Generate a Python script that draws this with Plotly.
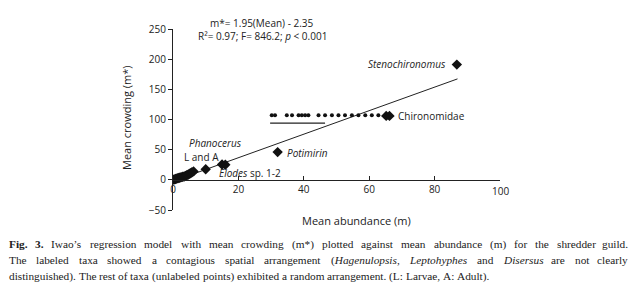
import plotly.graph_objects as go

# Taxa points (mean abundance m, mean crowding m*)
taxa_x = [0.2, 0.5, 0.8, 1.0, 1.3, 1.6, 2.0, 2.3, 2.7, 3.0, 3.4, 3.8, 4.2, 4.6, 5.0, 5.4, 5.8, 6.3,
          10.0, 15.0, 16.0, 32.0, 65.2, 66.2, 86.8]
taxa_y = [0.3, 0.8, 1.5, 2.0, 2.5, 3.0, 3.5, 4.0, 4.5, 5.0, 5.5, 6.5, 7.5, 8.5, 10.0, 11.0, 12.5, 14.0,
          17.5, 25.5, 25.0, 46.0, 106.0, 106.0, 191.0]

# Dotted row of markers (as printed in the figure)
dots_x = [30.2, 31.2, 34.8, 36.4, 38.4, 39.4, 40.4, 41.4, 44.5, 46.5, 48.6, 50.6, 52.6, 54.7,
          56.7, 58.8, 60.8, 62.8]
dots_y = [107] * len(dots_x)

# Short solid segment under the dotted row
seg_x = [29.7, 46.5]
seg_y = [94, 94]

# Regression line m* = 1.95(Mean) - 2.35
fit_x = [0, 87]
fit_y = [-2.35, 167.3]

x_ticks = [0, 20, 40, 60, 80, 100]
x_labels = ["0", "20", "40", "60", "80", "100"]
y_ticks = [-50, 0, 50, 100, 150, 200, 250]

# Caption lines: list of (word, style) ; style: "" regular, "b" bold, "i" italic
cap_lines = [
    [("Fig.", "b"), ("3.", "b"), ("Iwao’s", ""), ("regression", ""), ("model", ""), ("with", ""),
     ("mean", ""), ("crowding", ""), ("(m*)", ""), ("plotted", ""), ("against", ""), ("mean", ""),
     ("abundance", ""), ("(m)", ""), ("for", ""), ("the", ""), ("shredder", ""), ("guild.", "")],
    [("The", ""), ("labeled", ""), ("taxa", ""), ("showed", ""), ("a", ""), ("contagious", ""),
     ("spatial", ""), ("arrangement", ""), ("(", ""), ("Hagenulopsis", "i"), (",", ""), ("Leptohyphes", "i"),
     ("and", ""), ("Disersus", "i"), ("are", ""), ("not", ""), ("clearly", "")],
    [("distinguished).", ""), ("The", ""), ("rest", ""), ("of", ""), ("taxa", ""), ("(unlabeled", ""),
     ("points)", ""), ("exhibited", ""), ("a", ""), ("random", ""), ("arrangement.", ""), ("(L:", ""),
     ("Larvae,", ""), ("A:", ""), ("Adult).", "")],
]

FONT = "Open Sans"
SERIF = "Liberation Serif"
W, H = 637, 299
L, R, T, B = 173, 137, 29, 89
pw, ph = W - L - R, H - T - B

fig = go.Figure()
fig.add_trace(go.Scatter(x=fit_x, y=fit_y, mode="lines",
                         line=dict(color="#222", width=1), hoverinfo="skip"))
fig.add_trace(go.Scatter(x=seg_x, y=seg_y, mode="lines",
                         line=dict(color="#222", width=1.2), hoverinfo="skip"))
fig.add_trace(go.Scatter(x=dots_x, y=dots_y, mode="markers",
                         marker=dict(symbol="circle", size=4, color="#111")))
fig.add_trace(go.Scatter(x=taxa_x, y=taxa_y, mode="markers",
                         marker=dict(symbol="diamond", size=8, color="#111")))

ann = []
def cp(xp, yp, text, size=10, xanchor="center", family=FONT, angle=0):
    ann.append(dict(text=text, x=(xp - L) / pw, y=(H - B - yp) / ph, xref="paper", yref="paper",
                    showarrow=False, xanchor=xanchor, yanchor="middle", textangle=angle,
                    borderpad=0, font=dict(family=family, size=size, color="#222")))

cp(262, 23, "m*= 1.95(Mean) - 2.35", 10)
cp(262, 36, "R²= 0.97; F= 846.2; <i>p</i> &lt; 0.001", 10)
cp(407, 64, "<i>Stenochironomus</i>", 10)
cp(431, 116, "Chironomidae", 10)
cp(215, 143, "<i>Phanocerus</i>", 10)
cp(201, 157, "L and A", 10)
cp(307, 153, "<i>Potimirin</i>", 10)
cp(250, 173, "<i>Elodes</i> sp. 1-2", 10)
cp(356, 220, "Mean abundance (m)", 11)
cp(126, 118, "Mean crowding (m*)", 11, angle=-90)

# the last x tick label is drawn as an annotation at the axis end (plotly hides it on a free axis)
ann.append(dict(text=x_labels[-1], x=x_ticks[-1], xref="x", y=(H - B - 191) / ph, yref="paper",
                showarrow=False, xanchor="center", yanchor="middle", borderpad=0,
                font=dict(family=FONT, size=10, color="#222")))
tick_text = x_labels[:-1] + [""]

# Times / Liberation Serif advance widths (1/1000 em)
TW = dict(zip("abcdefghijklmnopqrstuvwxyz",
              [444, 500, 444, 500, 444, 333, 500, 500, 278, 278, 500, 278, 778, 500, 500, 500, 500,
               333, 389, 278, 500, 500, 722, 500, 500, 444]))
TW.update(dict(zip("ABCDEFGHIJKLMNOPQRSTUVWXYZ",
                   [722, 667, 667, 722, 611, 556, 722, 722, 333, 389, 722, 611, 889, 722, 722, 556,
                    722, 667, 556, 611, 722, 722, 944, 722, 722, 611])))
TW.update({" ": 250, ".": 250, ",": 250, "(": 333, ")": 333, "*": 500, ":": 278, "’": 333,
           "-": 333, "3": 500})

def em(s):
    return sum(TW.get(c, 500) for c in s) / 1000.0

CAP_SIZE = 11.3
CAP_LEFT, CAP_RIGHT = 8, 629
cap_y = [244, 260, 276]

def fmt(w, st):
    w = w.replace("&", "&amp;")
    if st == "b":
        return "<b>" + w + "</b>"
    if st == "i":
        return "<i>" + w + "</i>"
    return w

for li, words in enumerate(cap_lines):
    tokens = []
    glue_next = False
    for w, st in words:
        if tokens and (w in (",",) or glue_next):
            tokens[-1].append((w, st))
        else:
            tokens.append([(w, st)])
        glue_next = (w == "(")
    widths = [sum(em(w) for w, _ in t) * CAP_SIZE for t in tokens]
    natural_gap = em(" ") * CAP_SIZE
    justify = li < 2
    if justify:
        gap = (CAP_RIGHT - CAP_LEFT - sum(widths)) / (len(tokens) - 1)
    else:
        gap = natural_gap
    x = CAP_LEFT
    for k, (t, wd) in enumerate(zip(tokens, widths)):
        html = "".join(fmt(w, st) for w, st in t)
        if justify and k == len(tokens) - 1:
            cp(CAP_RIGHT, cap_y[li], html, CAP_SIZE, "right", SERIF)
        else:
            cp(x, cap_y[li], html, CAP_SIZE, "left", SERIF)
        x += wd + gap

fig.update_layout(
    width=W, height=H, margin=dict(l=L, r=R, t=T, b=B),
    paper_bgcolor="white", plot_bgcolor="white", showlegend=False,
    font=dict(family=FONT, size=10, color="#222"),
    annotations=ann,
    xaxis=dict(range=[0, 100], tickvals=x_ticks, ticktext=tick_text, showgrid=False, zeroline=False,
               showline=True, linecolor="#222", linewidth=1, ticks="inside", ticklen=4,
               tickcolor="#222", anchor="free", position=50 / 300,
               tickfont=dict(family=FONT, size=10, color="#222")),
    yaxis=dict(range=[-50, 250], tickvals=y_ticks, showgrid=False, zeroline=False,
               showline=True, linecolor="#222", linewidth=1, ticks="outside", ticklen=4,
               tickcolor="#222", tickfont=dict(family=FONT, size=10, color="#222")),
)

fig.write_html("out.html", config={"displayModeBar": False},
               post_script="document.body.style.margin='0';document.body.style.overflow='hidden';")
